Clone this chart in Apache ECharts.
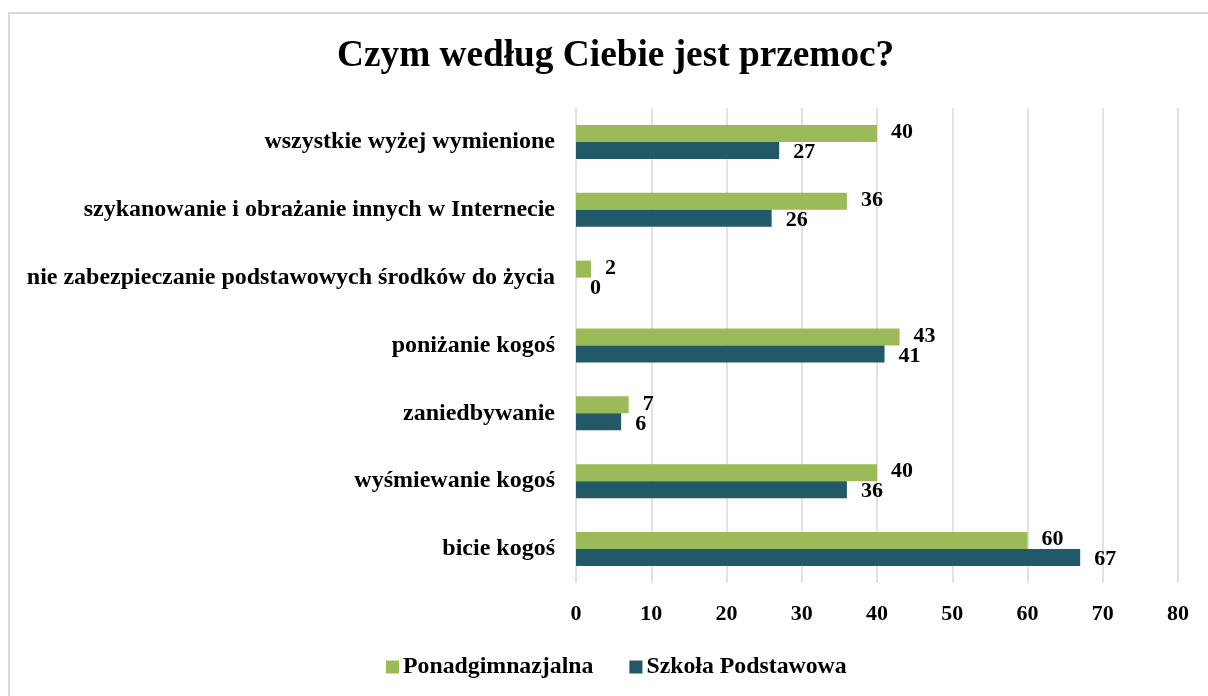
<!DOCTYPE html>
<html>
<head>
<meta charset="utf-8">
<script src="https://cdn.jsdelivr.net/npm/echarts@6/dist/echarts.min.js"></script>
<style>
  html, body { margin: 0; padding: 0; background: #fff; }
  #frame {
    position: absolute; left: 8px; top: 12px; width: 1210px; height: 700px;
    border: 2px solid #d9d9d9; box-sizing: border-box;
  }
  #chart { position: absolute; left: 0; top: 0; width: 1208px; height: 696px; }
</style>
</head>
<body>
<div id="frame"></div>
<div id="chart"></div>
<script>
// kategorie od dołu do góry
var categories = [
  'bicie kogoś',
  'wyśmiewanie kogoś',
  'zaniedbywanie',
  'poniżanie kogoś',
  'nie zabezpieczanie podstawowych środków do życia',
  'szykanowanie i obrażanie innych w Internecie',
  'wszystkie wyżej wymienione'
]
var ponadgimnazjalna = [60, 40, 7, 43, 2, 36, 40]
var podstawowa = [67, 36, 6, 41, 0, 26, 27]
var xTicks = [0, 10, 20, 30, 40, 50, 60, 70, 80]

var font = '"Liberation Serif", "Times New Roman", serif'
var green = '#9bbb59'
var teal = '#215968'

var chart = echarts.init(document.getElementById('chart'))
chart.setOption({
  animation: false,
  title: {
    text: 'Czym według Ciebie jest przemoc?',
    left: 332,
    top: 33,
    textStyle: { fontFamily: font, fontSize: 37.3, fontWeight: 'bold', color: '#000' }
  },
  legend: {
    left: 381,
    top: 650,
    itemWidth: 13,
    itemHeight: 13,
    itemGap: 36,
    icon: 'rect',
    textStyle: { fontFamily: font, fontSize: 23.8, fontWeight: 'bold', color: '#000', padding: [0, 0, 0, -1] },
    data: ['Ponadgimnazjalna', 'Szkoła Podstawowa']
  },
  grid: { left: 576, right: 30, top: 108, bottom: 113, containLabel: false },
  xAxis: {
    type: 'value',
    min: xTicks[0],
    max: xTicks[xTicks.length - 1],
    interval: 10,
    axisLine: { show: false },
    axisTick: { show: false },
    splitLine: { show: true, lineStyle: { color: '#d9d9d9', width: 1.5 } },
    axisLabel: { fontFamily: font, fontSize: 22, fontWeight: 'bold', color: '#000', margin: 20 }
  },
  yAxis: {
    type: 'category',
    data: categories,
    axisLine: { show: false },
    axisTick: { show: false },
    axisLabel: { fontFamily: font, fontSize: 24, fontWeight: 'bold', color: '#000', margin: 21 }
  },
  series: [
    {
      name: 'Ponadgimnazjalna',
      type: 'bar',
      data: ponadgimnazjalna,
      barWidth: 17,
      barGap: '0%',
      itemStyle: { color: green },
      label: {
        show: true, position: 'right', distance: 14, offset: [0, -1],
        fontFamily: font, fontSize: 22, fontWeight: 'bold', color: '#000'
      }
    },
    {
      name: 'Szkoła Podstawowa',
      type: 'bar',
      data: podstawowa,
      barWidth: 17,
      barGap: '0%',
      itemStyle: { color: teal },
      label: {
        show: true, position: 'right', distance: 14, offset: [0, 2],
        fontFamily: font, fontSize: 22, fontWeight: 'bold', color: '#000'
      }
    }
  ]
})
</script>
</body>
</html>
